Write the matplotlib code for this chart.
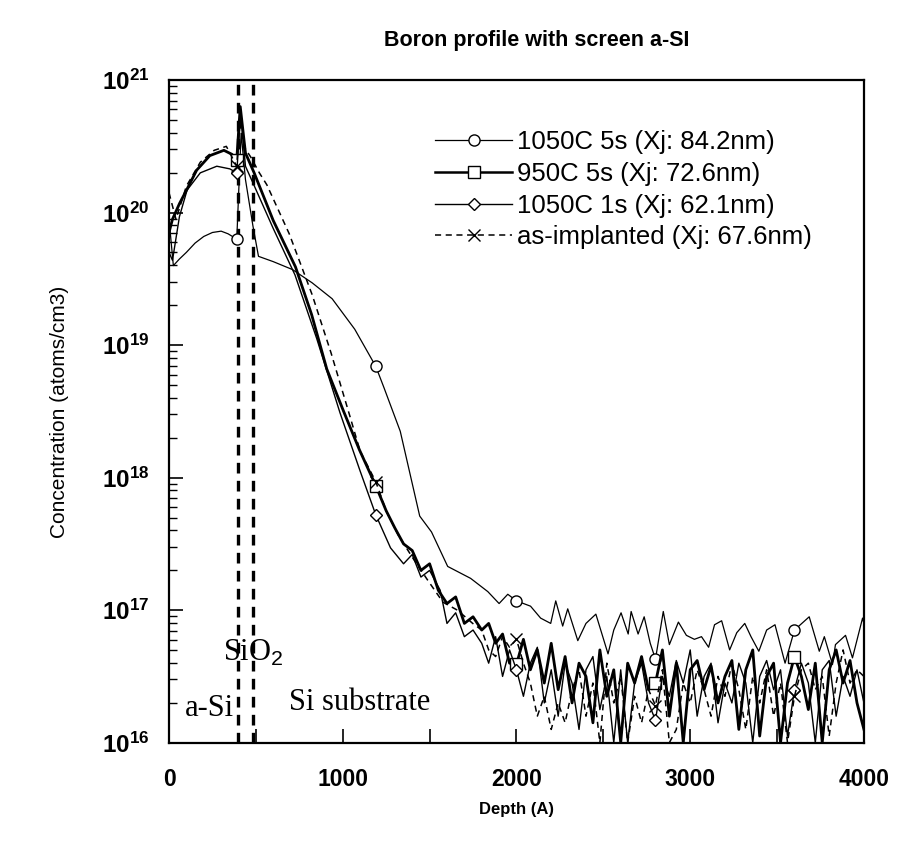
import numpy as np
import matplotlib
matplotlib.use("Agg")
import matplotlib.pyplot as plt
from matplotlib.lines import Line2D
from matplotlib.ticker import FixedLocator, LogLocator, NullFormatter, MultipleLocator

plt.rcParams['font.family'] = ['Liberation Sans', 'DejaVu Sans']
plt.rcParams['mathtext.fontset'] = 'custom'
plt.rcParams['mathtext.rm'] = 'Liberation Sans'
plt.rcParams['mathtext.bf'] = 'Liberation Sans:bold'

# ---------------- data (depth in Angstrom, log10 concentration) ----------------
labels = ["1050C 5s (Xj: 84.2nm)", "950C 5s (Xj: 72.6nm)",
          "1050C 1s (Xj: 62.1nm)", "as-implanted (Xj: 67.6nm)"]

marker_depths = [390, 1190, 2000, 2800, 3600]
interface_depths = [395, 485]

tail_depth = [1800, 1840, 1880, 1920, 1960, 2000, 2040, 2080, 2120, 2160,
              2200, 2240, 2280, 2320, 2360, 2400, 2440, 2480, 2520, 2560,
              2600, 2640, 2680, 2720, 2760, 2800, 2840, 2880, 2920, 2960,
              3000, 3040, 3080, 3120, 3160, 3200, 3240, 3280, 3320, 3360,
              3400, 3440, 3480, 3520, 3560, 3600, 3640, 3680, 3720, 3760,
              3800, 3840, 3880, 3920, 3960, 4000]

# 1050C 5s
d_1050_5s = [0, 25, 60, 100, 150, 200, 250, 300, 340, 390, 415, 440, 483, 515,
             600, 711, 824, 939, 1069, 1190, 1237, 1331, 1443, 1511, 1604, 1736,
             1835, 1900, 1950, 2000, 2081, 2139, 2197, 2226, 2266, 2295, 2353,
             2400, 2457, 2527, 2560, 2602, 2643, 2660, 2700, 2735, 2770, 2800,
             2845, 2880, 2932, 2978, 3024, 3065, 3106, 3140, 3181, 3227, 3268,
             3314, 3350, 3395, 3440, 3488, 3546, 3600, 3685, 3743, 3772, 3819,
             3836, 3894, 3934, 3992, 4000]
e_1050_5s = [19.95, 19.60, 19.65, 19.70, 19.77, 19.82, 19.85, 19.86, 19.84, 19.80,
             20.60, 20.25, 19.90, 19.67, 19.63, 19.57, 19.47, 19.35, 19.12, 18.84,
             18.68, 18.35, 17.71, 17.59, 17.33, 17.24, 17.14, 17.05, 17.12, 17.07,
             17.03, 16.94, 16.90, 17.07, 16.88, 17.01, 16.77, 16.90, 16.97, 16.67,
             16.85, 16.98, 16.82, 16.99, 16.82, 16.95, 16.75, 16.63, 16.99, 16.74,
             16.91, 16.81, 16.78, 16.80, 16.72, 16.89, 16.92, 16.70, 16.83, 16.90,
             16.80, 16.69, 16.85, 16.89, 16.60, 16.85, 16.95, 16.69, 16.80, 16.59,
             16.74, 16.81, 16.64, 16.94, 16.90]

# 950C 5s
d_950_5s_head = [0, 20, 61, 101, 159, 235, 316, 362, 390, 410, 440, 490, 600,
                 728, 821, 908, 1002, 1096, 1190, 1250, 1300, 1350, 1400, 1450,
                 1500, 1550, 1600, 1650, 1700, 1750]
e_950_5s_head = [19.85, 19.95, 20.07, 20.17, 20.32, 20.43, 20.47, 20.44, 20.40,
                 20.80, 20.45, 20.30, 19.94, 19.59, 19.23, 18.82, 18.51, 18.21,
                 17.94, 17.75, 17.62, 17.50, 17.45, 17.30, 17.35, 17.15, 17.05,
                 17.10, 16.90, 16.95]
e_950_5s_tail = [16.85, 16.90, 16.75, 16.82, 16.60, 16.59, 16.78, 16.55, 16.70, 16.45,
                 16.75, 16.40, 16.65, 16.30, 16.60, 16.50, 16.15, 16.70, 16.35, 16.55,
                 16.00, 16.60, 16.45, 16.65, 16.40, 16.45, 16.70, 16.20, 16.60, 16.00,
                 16.55, 16.62, 16.40, 16.58, 16.30, 16.50, 16.62, 16.10, 16.55, 16.70,
                 16.05, 16.50, 16.60, 16.00, 16.45, 16.65, 16.50, 16.25, 16.60, 16.00,
                 16.55, 16.70, 16.45, 16.62, 16.30, 16.10]

# 1050C 1s
d_1050_1s_head = [0, 20, 60, 104, 180, 275, 350, 390, 412, 440, 488, 600, 725,
                  850, 984, 1100, 1190, 1275, 1350, 1400, 1450, 1500, 1561, 1600,
                  1650, 1700, 1750]
e_1050_1s_head = [19.70, 19.64, 19.97, 20.17, 20.30, 20.35, 20.33, 20.30, 20.75,
                  20.35, 20.21, 19.88, 19.53, 19.05, 18.49, 18.05, 17.72, 17.47,
                  17.35, 17.42, 17.25, 17.30, 17.15, 16.90, 16.98, 16.80, 16.85]
e_1050_1s_tail = [16.75, 16.60, 16.80, 16.50, 16.70, 16.55, 16.35, 16.60, 16.72, 16.30,
                  16.55, 16.20, 16.60, 16.45, 16.10, 16.55, 16.65, 16.25, 16.50, 16.00,
                  16.55, 16.00, 16.45, 16.60, 16.30, 16.17, 16.50, 16.35, 16.62, 16.45,
                  16.70, 16.20, 16.50, 16.60, 16.15, 16.45, 16.30, 16.60, 16.45, 16.00,
                  16.50, 16.62, 16.40, 16.55, 16.05, 16.40, 16.60, 16.45, 16.00, 16.55,
                  16.62, 16.20, 16.50, 16.35, 16.55, 16.30]

# as-implanted
d_asimp_head = [0, 40, 100, 180, 260, 330, 390, 405, 430, 470, 520, 563, 692,
                824, 933, 1042, 1100, 1190, 1250, 1318, 1400, 1487, 1577, 1660, 1748]
e_asimp_head = [20.15, 19.95, 20.20, 20.38, 20.47, 20.50, 20.35, 20.70, 20.50,
                20.42, 20.30, 20.21, 19.84, 19.38, 18.94, 18.46, 18.20, 17.97,
                17.75, 17.57, 17.40, 17.23, 17.06, 17.00, 16.90]
e_asimp_tail = [16.85, 16.70, 16.65, 16.80, 16.72, 16.78, 16.60, 16.45, 16.20, 16.35,
                16.10, 16.30, 16.15, 16.40, 16.55, 16.20, 16.45, 16.00, 16.60, 16.30,
                16.50, 16.00, 16.35, 16.15, 16.40, 16.28, 16.55, 16.00, 16.10, 16.45,
                16.30, 16.55, 16.40, 16.20, 16.50, 16.35, 16.60, 16.40, 16.10, 16.50,
                16.30, 16.55, 16.20, 16.45, 16.00, 16.35, 16.55, 16.60, 16.40, 16.50,
                16.05, 16.45, 16.70, 16.45, 16.55, 16.50]

series = [
    (np.array(d_1050_5s), np.array(e_1050_5s),
     dict(color='black', lw=0.9, ls='-', marker='o', ms=8)),
    (np.array(d_950_5s_head + tail_depth), np.array(e_950_5s_head + e_950_5s_tail),
     dict(color='black', lw=2.0, ls='-', marker='s', ms=8)),
    (np.array(d_1050_1s_head + tail_depth), np.array(e_1050_1s_head + e_1050_1s_tail),
     dict(color='black', lw=1.0, ls='-', marker='D', ms=6.5)),
    (np.array(d_asimp_head + tail_depth), np.array(e_asimp_head + e_asimp_tail),
     dict(color='black', lw=1.1, ls=(0, (4, 3)), marker='x', ms=8.5)),
]

# ---------------- figure ----------------
fig = plt.figure(figsize=(8.99, 8.43), dpi=100)
ax = fig.add_axes([0.188, 0.119, 0.773, 0.786])

handles = []
for (d, e, st), lab in zip(series, labels):
    idx = [i for i, v in enumerate(d) if v in marker_depths]
    ax.plot(d, 10.0 ** e, color=st['color'], lw=st['lw'], ls=st['ls'],
            marker=st['marker'], ms=st['ms'], markevery=idx,
            mfc='white', mec='black', mew=1.0, clip_on=True)
    handles.append(Line2D([], [], color='black', lw=st['lw'] if st['lw'] < 1.5 else 1.8,
                          ls=st['ls'], marker=st['marker'], ms=st['ms'],
                          mfc='white', mec='black', mew=1.0))

for xv in interface_depths:
    ax.axvline(xv, color='black', lw=2.4, ls=(0, (3.2, 2.2)), zorder=1)

ax.set_yscale('log')
ax.set_xlim(0, 4000)
ax.set_ylim(1e16, 1e21)

yt = [1e16, 1e17, 1e18, 1e19, 1e20, 1e21]
ax.yaxis.set_major_locator(FixedLocator(yt))
ax.set_yticklabels([r'$\mathbf{10^{%d}}$' % int(np.log10(v)) for v in yt])
ax.yaxis.set_minor_locator(LogLocator(base=10, subs=np.arange(2, 10)))
ax.yaxis.set_minor_formatter(NullFormatter())

ax.xaxis.set_major_locator(FixedLocator([0, 1000, 2000, 3000, 4000]))
ax.set_xticklabels(['0', '1000', '2000', '3000', '4000'])
ax.xaxis.set_minor_locator(MultipleLocator(500))

ax.tick_params(axis='both', which='both', direction='in', top=False, right=False)
ax.tick_params(axis='y', which='major', length=10, width=1.2, pad=14, labelsize=17.5)
ax.tick_params(axis='y', which='minor', length=6, width=1.0)
ax.tick_params(axis='x', which='major', length=10, width=1.2, pad=18, labelsize=16.5)
ax.tick_params(axis='x', which='minor', length=10, width=1.2)
for lab in ax.get_xticklabels():
    lab.set_fontweight('bold')

for sp in ax.spines.values():
    sp.set_linewidth(1.6)

ax.set_xlabel('Depth (A)', fontsize=12, fontweight='bold', labelpad=8)
ax.set_ylabel('Concentration (atoms/cm3)', fontsize=15, labelpad=24)
fig.text(0.597, 0.952, 'Boron profile with screen a-SI', ha='center', va='center',
         fontsize=15.5, fontweight='bold')

ax.text(310, 10 ** 16.68, r'SiO$_2$', family='Liberation Serif', fontsize=22,
        ha='left', va='center')
ax.text(92, 10 ** 16.26, 'a-Si', family='Liberation Serif', fontsize=22,
        ha='left', va='center')
ax.text(690, 10 ** 16.30, 'Si substrate', family='Liberation Serif', fontsize=22,
        ha='left', va='center')

leg = ax.legend(handles, labels, loc='upper left', bbox_to_anchor=(0.368, 0.94),
                frameon=False, fontsize=18.5, handlelength=3.0, handletextpad=0.2,
                labelspacing=0.3, borderaxespad=0)

fig.savefig('out.png', dpi=100)
